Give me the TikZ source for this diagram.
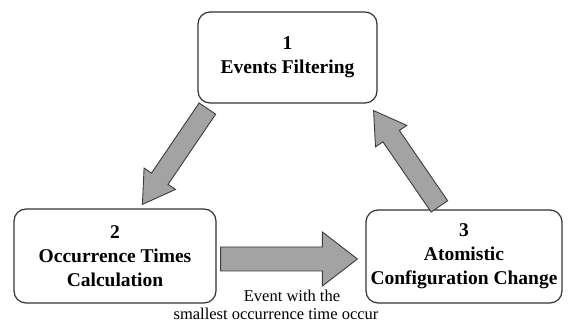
\documentclass[tikz,border=0pt]{standalone}
\usepackage{fontspec}
\setmainfont{Liberation Serif}
\usepackage{xcolor}
\definecolor{boxline}{HTML}{333333}
\definecolor{arrowfill}{HTML}{A3A3A3}
\definecolor{arrowline}{HTML}{3C3C3C}
\usetikzlibrary{calc}

\tikzset{
  stagebox/.style={draw=boxline, line width=1.2pt, rounded corners=12pt, align=center,
    inner sep=0pt, font=\fontsize{19.5}{24}\selectfont\bfseries},
  fatarrow/.style={fill=arrowfill, draw=arrowline, line width=0.9pt, line join=miter},
  note/.style={font=\fontsize{16.5}{20}\selectfont, inner sep=0pt},
}

% block arrow: from, to, shaft half width, head half width, head length
\newcommand{\blockarrow}[5]{%
  \coordinate (ba-s) at (#1);
  \coordinate (ba-e) at (#2);
  \coordinate (ba-h) at ($(ba-e)!#5!(ba-s)$);
  \filldraw[fatarrow] ($(ba-s)!#3!90:(ba-e)$) -- ($(ba-h)!#3!90:(ba-e)$)
    -- ($(ba-h)!#4!90:(ba-e)$) -- (ba-e) -- ($(ba-h)!#4!-90:(ba-e)$)
    -- ($(ba-h)!#3!-90:(ba-e)$) -- ($(ba-s)!#3!-90:(ba-e)$) -- cycle;
}

\begin{document}
\begin{tikzpicture}[x=1pt,y=1pt]
  \useasboundingbox[fill=white] (0,0) rectangle (571,323);
  % Stages
  \node[stagebox, minimum width=179pt, minimum height=91pt] (filter) at (287.5,265.5) {1\\Events Filtering};
  \node[stagebox, minimum width=202pt, minimum height=94pt] (occtime) at (115,67) {2\\Occurrence Times\\Calculation};
  \node[stagebox, minimum width=196pt, minimum height=93pt] (change) at (464,66.5) {3\\Atomistic\\Configuration Change};
  % Arrow ends
  \coordinate (fo-s) at ($(filter.south west)+(10,-5)$);
  \coordinate (fo-e) at ($(occtime.north west)+(129,4)$);
  \coordinate (oc-s) at ($(occtime.east)+(4,-3)$);
  \coordinate (oc-e) at ($(change.west)+(-8,-2.5)$);
  \coordinate (cf-s) at ($(change.north west)+(74,3)$);
  \coordinate (cf-e) at ($(filter.south east)+(-4,-7)$);
  % Cycle
  \blockarrow{fo-s}{fo-e}{10pt}{19pt}{31pt}
  \blockarrow{oc-s}{oc-e}{12pt}{27pt}{35pt}
  \blockarrow{cf-s}{cf-e}{10pt}{19pt}{31pt}
  % Condition
  \node[note, anchor=base] (cond1) at (292,21.5) {Event with the};
  \node[note, anchor=base] (cond2) at (276,3) {smallest occurrence time occur};
\end{tikzpicture}
\end{document}
